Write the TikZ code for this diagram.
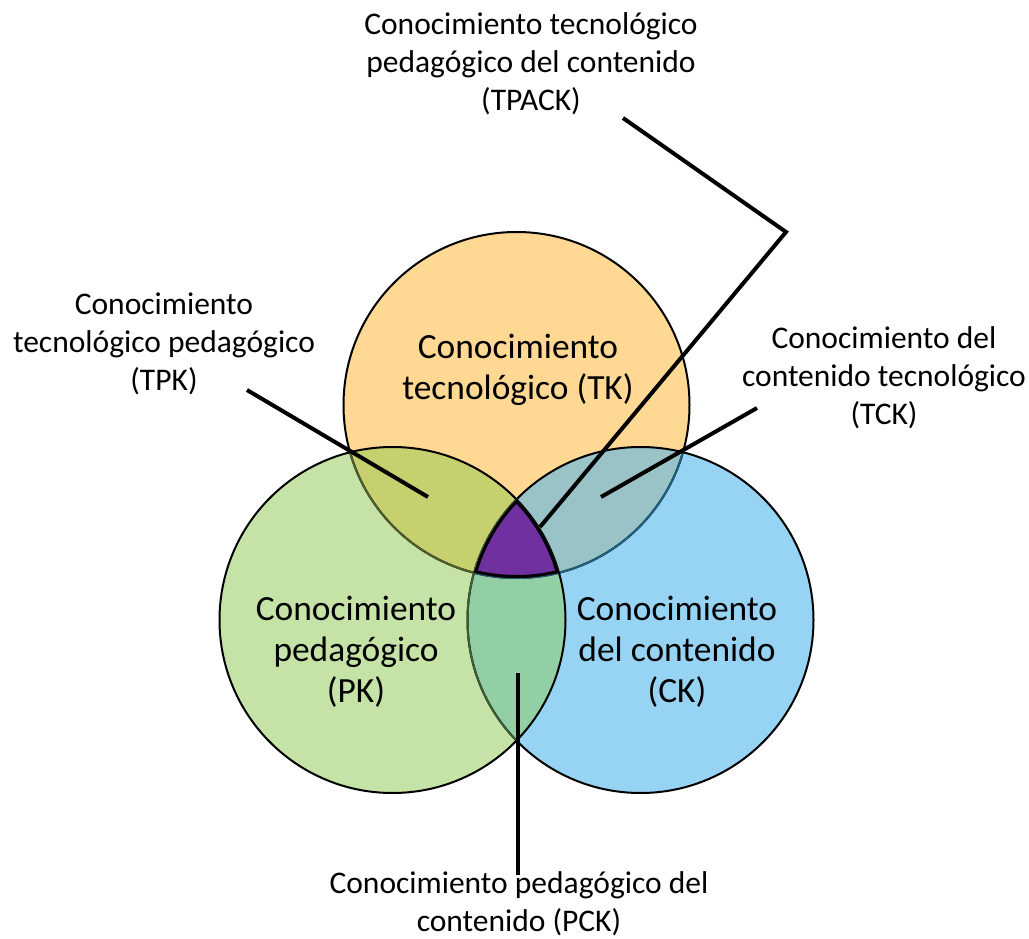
\documentclass[tikz,border=0pt]{standalone}
\usepackage{fontspec}
\setmainfont{Carlito}
\definecolor{tkfill}{HTML}{FFD993}
\definecolor{pkfill}{HTML}{C5E3A6}
\definecolor{ckfill}{HTML}{97D3F3}
\definecolor{tpkfill}{HTML}{C6D06F}
\definecolor{tckfill}{HTML}{99C3C6}
\definecolor{pckfill}{HTML}{93CFA5}
\definecolor{tpackfill}{HTML}{7030A0}
\definecolor{tkinpk}{HTML}{4F5C2C}
\definecolor{tkinck}{HTML}{1F5F7E}
\definecolor{ckinpk}{HTML}{3D5C36}
\tikzset{
  outl/.style={line width=2pt, draw=black},
  leader/.style={line width=4pt, draw=black, line cap=butt, line join=miter},
  outerlbl/.style={align=center, inner sep=0pt, font=\fontsize{31.5}{38}\selectfont},
  innerlbl/.style={align=center, inner sep=0pt, font=\fontsize{35.4}{41}\selectfont},
}
\newcommand{\Rad}{173pt}
\begin{document}
\begin{tikzpicture}[x=1pt,y=-1pt]
\useasboundingbox (0,0) rectangle (1029,939);
\fill[white] (0,0) rectangle (1029,939);

% circle centres
\coordinate (tkc) at (516.5,405);
\coordinate (pkc) at (392.5,620);
\coordinate (ckc) at (640.5,620);

% plain fills
\fill[tkfill] (tkc) circle[radius=\Rad];
\fill[ckfill] (ckc) circle[radius=\Rad];
\fill[pkfill] (pkc) circle[radius=\Rad];

% pairwise overlaps
\begin{scope}
  \clip (tkc) circle[radius=\Rad];
  \fill[tpkfill] (pkc) circle[radius=\Rad];
  \fill[tckfill] (ckc) circle[radius=\Rad];
\end{scope}
\begin{scope}
  \clip (pkc) circle[radius=\Rad];
  \fill[pckfill] (ckc) circle[radius=\Rad];
\end{scope}

% outlines, tinted where seen through the upper discs
\draw[outl] (tkc) circle[radius=\Rad];
\begin{scope}
  \clip (pkc) circle[radius=\Rad];
  \draw[outl, draw=tkinpk] (tkc) circle[radius=\Rad];
\end{scope}
\begin{scope}
  \clip (ckc) circle[radius=\Rad];
  \draw[outl, draw=tkinck] (tkc) circle[radius=\Rad];
\end{scope}
\draw[outl] (ckc) circle[radius=\Rad];
\begin{scope}
  \clip (pkc) circle[radius=\Rad];
  \draw[outl, draw=ckinpk] (ckc) circle[radius=\Rad];
\end{scope}
\draw[outl] (pkc) circle[radius=\Rad];

% central region common to all three
\begin{scope}
  \clip (tkc) circle[radius=\Rad];
  \clip (pkc) circle[radius=\Rad];
  \clip (ckc) circle[radius=\Rad];
  \fill[tpackfill] (0,0) rectangle (1029,939);
  \draw[line width=6pt] (tkc) circle[radius=\Rad] (pkc) circle[radius=\Rad] (ckc) circle[radius=\Rad];
\end{scope}

% labels inside the circles
\node[innerlbl] (tk) at (518,370) {Conocimiento\\tecnológico (TK)};
\node[innerlbl] (pk) at (356,652) {Conocimiento\\pedagógico\\(PK)};
\node[innerlbl] (ck) at (677,652) {Conocimiento\\del contenido\\(CK)};

% outer labels
\node[outerlbl] (tpack) at (531,64) {Conocimiento tecnológico\\pedagógico del contenido\\(TPACK)};
\node[outerlbl] (tpk) at (164,344) {Conocimiento\\tecnológico pedagógico\\(TPK)};
\node[outerlbl] (tck) at (884,378) {Conocimiento del\\contenido tecnológico\\(TCK)};
\node[outerlbl] (pck) at (519,904) {Conocimiento pedagógico del\\contenido (PCK)};

% leader lines
\coordinate (tpackA) at (623,118);
\coordinate (tpackB) at (786,232);
\coordinate (tpackC) at (540,527);
\coordinate (tpkA) at (247,390);
\coordinate (tpkB) at (428,497);
\coordinate (tckA) at (757,408);
\coordinate (tckB) at (601,497);
\coordinate (pckA) at (518,673);
\coordinate (pckB) at (518,875);
\draw[leader] (tpackA) -- (tpackB) -- (tpackC);
\draw[leader] (tpkA) -- (tpkB);
\draw[leader] (tckA) -- (tckB);
\draw[leader] (pckA) -- (pckB);
\end{tikzpicture}
\end{document}
